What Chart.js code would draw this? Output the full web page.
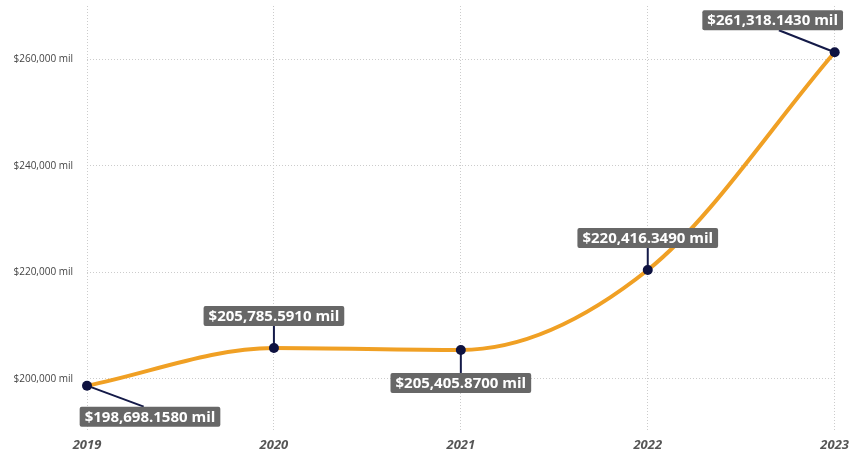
<!DOCTYPE html>
<html>
<head>
<meta charset="utf-8">
<script src="https://cdn.jsdelivr.net/npm/chart.js@4.4.1/dist/chart.umd.min.js"></script>
<style>
  html, body { margin: 0; padding: 0; background: #fff; }
  #wrap { width: 854px; height: 453px; position: relative; }
</style>
</head>
<body>
<div id="wrap"><canvas id="chart"></canvas></div>
<script>
// dados
const years = ['2019', '2020', '2021', '2022', '2023'];
const values = [198698.158, 205785.591, 205405.87, 220416.349, 261318.143];
const yTicks = [200000, 220000, 240000, 260000];

// onde fica cada rótulo em relação ao ponto (dx, dy do centro da caixa)
const labelOffsets = [[63, 31], [0, -32], [0, 33], [0, -32], [-62, -32]];

function fmt(v, dec) {
    return '$' + v.toLocaleString('en-US', { minimumFractionDigits: dec, maximumFractionDigits: dec }) + ' mil';
}

// plugin simples para desenhar os rótulos com linha guia
const calloutPlugin = {
    id: 'callouts',
    afterDatasetsDraw(chart) {
        const ctx = chart.ctx;
        const meta = chart.getDatasetMeta(0);
        ctx.save();
        ctx.font = 'bold 15px "Open Sans", sans-serif';
        meta.data.forEach((pt, i) => {
            const text = fmt(values[i], 4);
            const [dx, dy] = labelOffsets[i];
            const cx = pt.x + dx, cy = pt.y + dy;
            const w = ctx.measureText(text).width + 10;
            const h = 20;
            // linha guia
            let ex, ey;
            if (dx === 0) { ex = pt.x; ey = dy < 0 ? cy + h / 2 : cy - h / 2; }
            else { ex = cx - dx * 0.1; ey = dy < 0 ? cy + h / 2 : cy - h / 2; }
            ctx.strokeStyle = '#141a48';
            ctx.lineWidth = 2;
            ctx.beginPath();
            ctx.moveTo(pt.x, pt.y);
            ctx.lineTo(ex, ey);
            ctx.stroke();
            // caixa
            ctx.fillStyle = '#676767';
            ctx.beginPath();
            ctx.roundRect(cx - w / 2, cy - h / 2, w, h, 2);
            ctx.fill();
            ctx.fillStyle = '#ffffff';
            ctx.textAlign = 'center';
            ctx.textBaseline = 'middle';
            ctx.fillText(text, cx, cy + 1);
        });
        // pontos por cima
        meta.data.forEach(pt => {
            ctx.fillStyle = '#0e1240';
            ctx.beginPath();
            ctx.arc(pt.x, pt.y, 5, 0, Math.PI * 2);
            ctx.fill();
        });
        ctx.restore();
    }
};

const ctx = document.getElementById('chart').getContext('2d');
new Chart(ctx, {
    type: 'line',
    data: {
        labels: years,
        datasets: [{
            data: values,
            borderColor: '#f0a024',
            borderWidth: 4,
            cubicInterpolationMode: 'monotone',
            pointRadius: 0,
            fill: false
        }]
    },
    options: {
        responsive: true,
        maintainAspectRatio: false,
        animation: false,
        layout: { padding: { top: 6, right: 14, left: 0, bottom: 0 } },
        plugins: {
            legend: { display: false },
            tooltip: { enabled: false }
        },
        scales: {
            x: {
                offset: false,
                border: { display: false, dash: [1, 2] },
                grid: { color: '#cccccc', drawTicks: false },
                ticks: {
                    padding: 5,
                    maxRotation: 0,
                    color: '#555555',
                    font: { family: '"Open Sans", sans-serif', size: 13, weight: 'bold', style: 'italic' }
                },
                afterFit(scale) { scale.height = 21; }
            },
            y: {
                min: 190000,
                max: 270000,
                border: { display: false, dash: [1, 2] },
                grid: { color: '#cccccc', drawTicks: false },
                afterBuildTicks(scale) { scale.ticks = yTicks.map(v => ({ value: v })); },
                ticks: {
                    padding: 14,
                    color: '#444444',
                    font: { family: '"Open Sans", sans-serif', size: 10 },
                    callback: v => fmt(v, 0)
                },
                afterFit(scale) {
                    scale.width = 87;
                    scale.paddingTop = 0;
                    scale.paddingBottom = 0;
                }
            }
        }
    },
    plugins: [calloutPlugin]
});
</script>
</body>
</html>
